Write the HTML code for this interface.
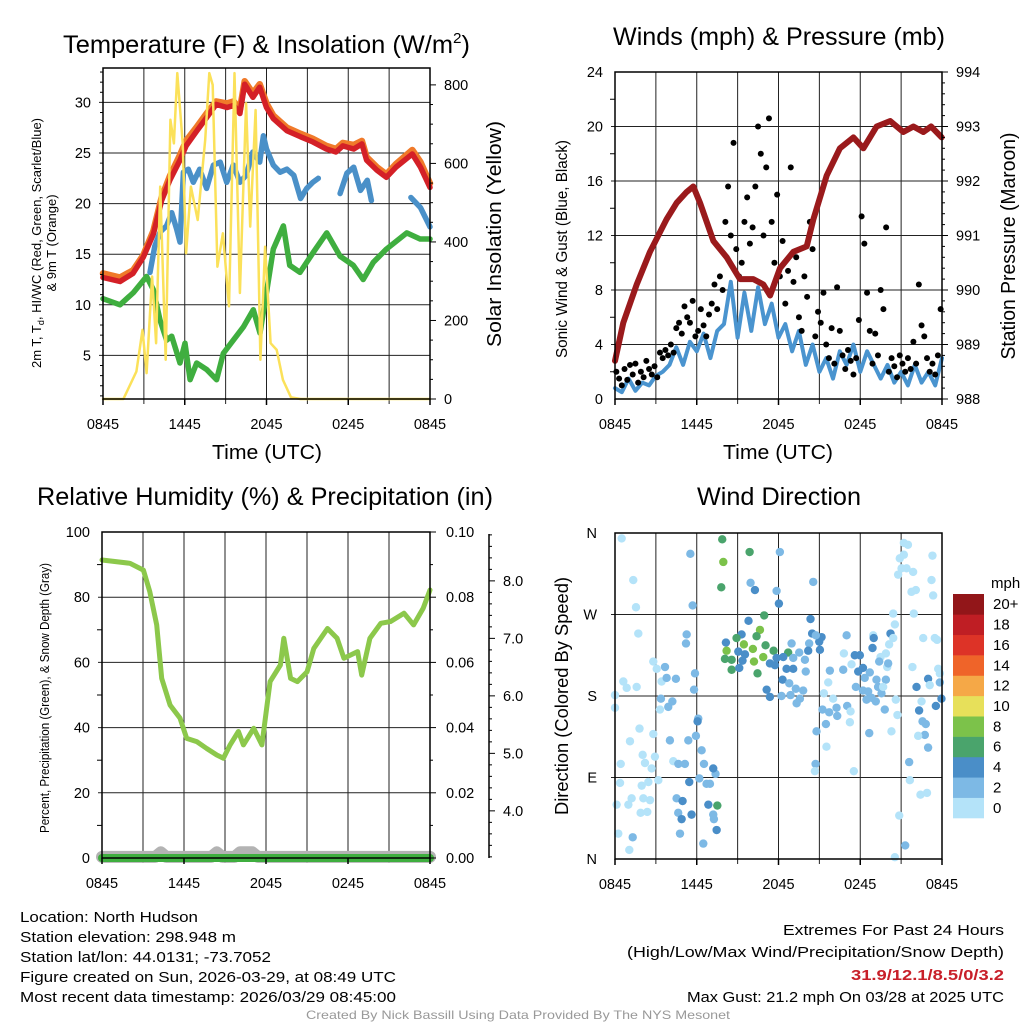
<!DOCTYPE html>
<html><head><meta charset="utf-8"><style>
body{margin:0;background:#fff;}
svg{display:block;font-family:"Liberation Sans",sans-serif;}
</style></head><body>
<svg id="fig" width="1024" height="1024" viewBox="0 0 1024 1024" xmlns="http://www.w3.org/2000/svg">
<rect width="1024" height="1024" fill="#fff"/>
<g id="layerBack"></g>
<g id="layerData"></g>
<g id="layerFront"></g>
<text x="63" y="53" font-size="25" textLength="407" lengthAdjust="spacingAndGlyphs">Temperature (F) &amp; Insolation (W/m<tspan font-size="15" dy="-10">2</tspan><tspan dy="10">)</tspan></text>
<text x="613" y="45" font-size="25" textLength="332" lengthAdjust="spacingAndGlyphs">Winds (mph) &amp; Pressure (mb)</text>
<text x="37" y="505" font-size="25" textLength="456" lengthAdjust="spacingAndGlyphs">Relative Humidity (%) &amp; Precipitation (in)</text>
<text x="697" y="505" font-size="25" textLength="164" lengthAdjust="spacingAndGlyphs">Wind Direction</text>
<text x="212" y="459" font-size="20" textLength="110" lengthAdjust="spacingAndGlyphs">Time (UTC)</text>
<text x="723" y="459" font-size="20" textLength="110" lengthAdjust="spacingAndGlyphs">Time (UTC)</text>
<text transform="translate(41,243) rotate(-90)" font-size="13" text-anchor="middle" textLength="250" lengthAdjust="spacingAndGlyphs">2m T, T<tspan font-size="9" dy="3">d</tspan><tspan dy="-3">, HI/WC (Red, Green, Scarlet/Blue)</tspan></text>
<text transform="translate(56,243) rotate(-90)" font-size="13" text-anchor="middle">&amp; 9m T (Orange)</text>
<text transform="translate(501,234) rotate(-90)" font-size="20" text-anchor="middle" textLength="226" lengthAdjust="spacingAndGlyphs">Solar Insolation (Yellow)</text>
<text transform="translate(567,249) rotate(-90)" font-size="16" text-anchor="middle" textLength="218" lengthAdjust="spacingAndGlyphs">Sonic Wind &amp; Gust (Blue, Black)</text>
<text transform="translate(1015,246) rotate(-90)" font-size="20" text-anchor="middle" textLength="227" lengthAdjust="spacingAndGlyphs">Station Pressure (Maroon)</text>
<text transform="translate(49,698) rotate(-90)" font-size="13" text-anchor="middle" textLength="270" lengthAdjust="spacingAndGlyphs">Percent, Precipitation (Green), &amp; Snow Depth (Gray)</text>
<text transform="translate(568,696) rotate(-90)" font-size="18" text-anchor="middle" textLength="238" lengthAdjust="spacingAndGlyphs">Direction (Colored By Speed)</text>
<text x="991" y="588" font-size="15">mph</text>
<g font-size="15">
<text x="20" y="922" textLength="178" lengthAdjust="spacingAndGlyphs">Location: North Hudson</text>
<text x="20" y="942" textLength="216" lengthAdjust="spacingAndGlyphs">Station elevation: 298.948 m</text>
<text x="20" y="962" textLength="251" lengthAdjust="spacingAndGlyphs">Station lat/lon: 44.0131; -73.7052</text>
<text x="20" y="982" textLength="376" lengthAdjust="spacingAndGlyphs">Figure created on Sun, 2026-03-29, at 08:49 UTC</text>
<text x="20" y="1002" textLength="376" lengthAdjust="spacingAndGlyphs">Most recent data timestamp: 2026/03/29 08:45:00</text>
<text x="783" y="935" textLength="221" lengthAdjust="spacingAndGlyphs">Extremes For Past 24 Hours</text>
<text x="627" y="957" textLength="377" lengthAdjust="spacingAndGlyphs">(High/Low/Max Wind/Precipitation/Snow Depth)</text>
<text x="851" y="980" textLength="153" lengthAdjust="spacingAndGlyphs" fill="#c8202a" font-weight="bold">31.9/12.1/8.5/0/3.2</text>
<text x="687" y="1002" textLength="317" lengthAdjust="spacingAndGlyphs">Max Gust: 21.2 mph On 03/28 at 2025 UTC</text>
</g>
<text x="306" y="1019" font-size="12" fill="#999" textLength="424" lengthAdjust="spacingAndGlyphs">Created By Nick Bassill Using Data Provided By The NYS Mesonet</text>
</svg>
<script>
// ---------- DATA ----------
const xTickLabels = ["0845","1445","2045","0245","0845"];
const tempHours = [0,1.25,2.2,2.96,3.7,4.3,4.9,5.65,6.1,6.9,7.6,8.3,9.1,9.6,10.05,10.4,11.0,11.5,12.0,12.5,13.5,14.5,15.4,16.4,17.1,17.6,18.4,19.0,19.35,20.1,20.8,21.5,22.7,23.3,24];
const tempVals = [12.7,12.3,13.1,14.7,17.0,20.3,22.3,24.3,25.7,27.2,28.5,29.8,29.5,29.7,28.9,31.8,30.5,31.5,29.5,28.4,27.2,26.6,26.1,25.4,25.1,25.7,25.4,25.9,24.3,23.3,22.6,23.6,24.9,23.6,21.6];
const temp9mVals = [13.1,12.7,13.4,14.9,17.3,20.6,22.7,24.8,26.2,27.6,28.9,30.1,29.9,30.1,29.3,32.1,30.9,31.8,29.9,28.7,27.5,26.9,26.4,25.7,25.4,26.0,25.8,26.2,24.6,23.6,22.9,23.9,25.3,24.1,22.0];
const hiwcHours = [3.45,3.8,4.2,4.67,5.04,5.4,5.65,5.9,6.26,6.63,7.1,7.6,8.1,8.6,9.08,9.56,10.05,10.5,11.0,11.5,11.77,12.0,12.5,13.0,13.5,14.0,14.5,14.95,15.4,15.8,null,17.4,17.9,18.4,18.9,19.4,19.7,null,22.6,23.3,24];
const hiwcVals = [13.2,15.8,17.2,17.8,19.1,17.5,16.2,23.1,23.4,22.1,23.4,21.5,23.8,24.1,22.1,23.8,22.1,22.8,25.1,24.1,26.7,25.4,23.8,23.1,23.4,22.8,20.5,21.5,22.1,22.5,null,21.0,23.0,23.6,21.3,22.3,20.3,null,20.6,19.6,17.7];
const dewHours = [0,1.25,2.23,3.2,3.69,4.18,4.67,5.04,5.65,6.02,6.39,6.88,7.61,8.34,8.83,9.56,10.3,11.03,11.52,12.0,12.5,13.24,13.7,14.46,15.44,16.42,17.4,18.37,19.1,19.84,20.8,22.3,23.27,24];
const dewVals = [10.6,10.0,11.2,12.8,11.5,8.5,6.5,6.9,4.25,6.2,2.6,4.25,3.6,2.6,5.2,6.5,7.8,9.5,7.2,11.2,15.5,17.8,13.9,13.2,15.2,17.1,14.8,13.9,12.5,14.2,15.5,17.1,16.5,16.5];
const solarHours = [0,1.5,2.45,2.9,3.2,3.6,3.9,4.2,4.6,4.95,5.2,5.45,5.85,6.1,6.45,6.95,7.5,7.8,8.05,8.4,8.8,9.25,9.65,10.05,10.5,10.8,11.2,11.55,11.9,12.3,12.75,13.2,13.8,14.5,24];
const solarVals = [0,0,70,176,66,312,142,541,100,711,651,830,651,371,541,456,660,830,800,337,422,236,830,270,753,439,736,100,388,142,125,49,4,0,0];
const pressHours = [0,0.61,1.59,2.57,3.79,4.53,5.26,5.75,6.24,7.22,8.2,9.17,10.15,10.89,11.38,12.11,13.09,14.07,14.56,15.54,16.51,17.5,18.23,19.2,20.2,21.16,21.9,22.63,23.2,23.98];
const pressVals = [988.7,989.4,990.1,990.7,991.3,991.6,991.8,991.9,991.6,990.9,990.6,990.2,990.2,990.1,989.9,990.4,990.7,990.8,991.3,992.1,992.6,992.8,992.6,993.0,993.1,992.9,993.0,992.9,993.0,992.8];
const windHours = [0,0.5,1,1.5,2,2.5,3,3.5,4,4.5,5,5.5,6,6.5,7,7.5,8,8.5,9,9.5,10,10.5,11,11.5,12,12.5,13,13.5,14,14.5,15,15.5,16,16.5,17,17.5,18,18.5,19,19.5,20,20.5,21,21.5,22,22.5,23,23.5,24];
const windVals = [0.8,0.5,1.5,0.6,1.2,1.0,1.7,2.0,2.5,3.8,2.5,4.2,3.5,4.8,3.0,5.0,5.5,8.6,4.5,7.8,5.0,8.2,5.5,7.0,4.5,5.5,3.5,5.0,2.5,4.0,2.0,3.0,1.5,3.5,2.5,4.0,2.0,3.5,2.5,1.5,2.5,1.2,2.0,1.0,2.5,1.2,2.0,1.0,3.0];
const gustHours = [0.1,0.3,0.5,0.7,0.9,1.1,1.3,1.5,1.7,1.9,2.1,2.3,2.5,2.7,2.9,3.1,3.3,3.5,3.7,3.9,4.1,4.3,4.5,4.7,4.9,5.1,5.3,5.5,5.7,5.9,6.1,6.3,6.5,6.7,6.9,7.1,7.3,7.5,7.7,7.9,8.1,8.3,8.5,8.7,8.9,9.1,9.3,9.5,9.7,9.9,10.1,10.3,10.5,10.7,10.9,11.1,11.3,11.5,11.7,11.9,12.1,12.3,12.5,12.7,12.9,13.1,13.3,13.5,13.7,13.9,14.1,14.3,14.5,14.7,14.9,15.1,15.3,15.5,15.7,15.9,16.1,16.3,16.5,16.7,16.9,17.1,17.3,17.5,17.7,17.9,18.1,18.3,18.5,18.7,18.9,19.1,19.3,19.5,19.7,19.9,20.1,20.3,20.5,20.7,20.9,21.1,21.3,21.5,21.7,21.9,22.1,22.3,22.5,22.7,22.9,23.1,23.3,23.5,23.7,23.9];
const gustVals = [2.0,1.5,1.0,2.2,1.4,2.5,1.8,2.6,1.2,2.0,1.6,2.8,2.2,1.8,2.4,1.6,3.4,3.0,3.6,3.2,4.0,3.4,5.2,5.6,4.8,6.8,6.0,5.6,7.2,4.6,5.0,6.6,5.4,4.6,6.2,7.0,8.4,6.6,9.0,8.0,13.0,15.6,12.0,18.8,11.0,9.0,10.0,13.0,14.8,11.4,12.6,15.6,20.0,18.0,12.0,17.0,20.6,13.0,10.0,15.0,9.0,11.6,7.0,9.4,17.0,8.6,10.4,6.0,5.0,9.0,7.5,13.0,11.0,4.6,6.4,5.6,7.8,4.0,3.0,5.2,2.6,8.2,5.0,3.2,2.2,3.6,2.8,1.8,3.0,5.8,13.4,11.4,7.8,5.0,2.6,4.8,3.2,8.0,6.6,12.6,2.0,3.0,2.4,1.6,3.2,2.6,2.0,3.0,2.2,4.2,2.6,8.4,5.4,4.6,3.0,2.0,2.6,1.8,3.2,6.6];
const rhHours = [0,2.05,3.03,3.5,4.0,4.37,4.98,5.71,6.2,6.93,7.66,8.4,8.88,9.37,9.98,10.35,11.1,11.7,12.3,13.05,13.3,13.8,14.3,15.0,15.5,16.5,17.2,17.7,18.7,19.0,19.6,20.4,21.1,22.1,22.8,23.5,24.0];
const rhVals = [91.4,90.4,88.3,81.7,71.5,55.1,46.9,42.9,36.7,35.7,33.6,31.6,30.6,34.7,38.8,34.7,39.8,34.7,54.1,59.2,67.4,55.1,54.1,57.1,64.3,70.4,67.4,61.3,63.3,56.1,67.4,72.0,72.5,75.1,71.5,76.6,82.2];
const snowHours = [0,3.9,4.3,4.7,8.0,8.4,8.8,9.7,10.1,10.6,11.0,11.4,24];
const snowVals = [3.2,3.2,3.28,3.2,3.2,3.28,3.2,3.2,3.28,3.28,3.28,3.2,3.2];
const precipHours = [0,24];
const precipVals = [0,0];
const dirHours = [0.49,1.34,1.54,1.71,0,0,0.61,0.86,1.59,2.81,3.06,3.42,3.3,1.8,1.1,2.81,2.03,2.93,0.42,2.2,2.69,0.37,1.96,2.45,1.22,0.12,0.98,2.08,2.57,1.88,2.37,0.24,1.05,3.18,4.28,5.26,5.21,5.7,5.53,5.87,5.8,3.67,3.79,4.47,3.37,3.91,4.21,4.03,5.38,5.94,6.11,6.36,6.53,4.65,5.13,6.19,6.72,6.97,4.52,4.64,7.21,7.26,4.77,6.48,1.3,7.38,5.45,4.96,4.89,5.62,6.85,7.46,7.21,6.06,7.51,7.87,7.95,7.8,9.88,12.1,9.95,10.27,11.86,12.03,14.55,14.35,10.95,9.8,10.64,9.29,8.14,8.19,8.92,9.46,10.12,10.39,11.05,11.64,10.88,10.2,10.46,12.71,8.07,8.56,8.56,9.05,9.54,9.36,9.12,11.37,11.74,11.86,12.35,12.59,13.08,12.3,11.13,11.37,12.22,12.96,13.52,13.08,13.94,14.0,12.79,13.27,13.81,12.88,13.57,13.33,14.25,14.18,14.47,14.99,15.04,15.16,14.74,15.77,16.75,17.0,16.8,15.65,16.01,15.33,15.23,15.72,16.26,16.31,17.04,17.29,17.24,15.48,14.79,15.52,14.72,14.67,17.53,17.36,17.6,17.97,17.85,18.2,18.7,18.33,17.68,18.2,18.58,18.83,19.14,18.46,19.56,19.31,19.19,19.88,19.68,19.8,20.61,20.73,20.29,19.98,20.05,19.49,19.39,19.88,18.95,18.9,18.99,18.66,20.22,20.42,20.12,20.42,20.54,20.78,20.9,21.03,21.2,21.5,21.2,21.4,21.88,21.76,22.08,21.93,23.3,23.23,23.35,23.47,23.64,22.62,21.83,22.98,23.1,23.72,23.84,23.84,23.96,23.55,22.13,22.5,22.32,22.57,22.81,22.74,22.25,22.98,21.59,21.64,22.42,22.9,20.86,21.3,20.54];
const dirDegs = [354,308,278,249,181,167,196,189,190,218,210,196,165,144,130,138,115,113,105,106,100,84,81,85,67,60,60,67,65,51,52,28,10,87,108,248,238,280,337,205,187,212,200,199,177,168,174,131,131,136,155,120,105,105,105,89,83,83,67,51,49,44,28,17,24,94,85,64,44,49,60,32,100,152,59,353,328,300,339,339,305,297,296,282,306,265,269,263,253,248,239,230,244,237,232,246,236,230,223,218,205,228,221,220,209,229,226,219,211,216,214,222,223,210,210,198,187,179,180,238,228,222,220,207,194,188,186,181,177,172,238,230,249,240,231,245,247,208,209,247,227,195,177,183,165,162,167,158,169,163,151,149,141,124,105,97,97,215,225,225,207,211,206,200,190,186,185,178,174,176,183,190,198,198,190,165,176,159,141,212,216,223,218,227,247,233,244,139,249,244,237,271,259,314,332,321,349,347,336,321,317,295,297,271,335,308,291,244,242,244,212,199,192,210,205,195,177,169,190,174,164,152,149,137,136,123,107,87,71,73,48,15,2];
const dirSpeeds = [0,0,0,0,0,0,0,0,0,0,0,0,0,0,0,0,0,0,0,0,0,0,0,0,0,0,0,0,0,0,0,0,0,0,0,2,2,2,2,2,2,2,2,2,2,2,2,2,2,2,2,2,2,2,2,2,2,2,2,2,2,2,2,2,2,2,4,4,4,4,4,4,4,4,6,6,8,6,6,2,2,4,2,4,2,4,6,4,8,4,4,8,6,8,8,6,6,6,8,8,6,6,6,6,6,4,4,4,4,4,4,4,4,4,4,4,4,4,2,2,2,2,2,2,2,2,2,2,2,2,2,4,4,4,4,4,2,2,2,2,0,0,0,0,2,2,2,2,2,0,0,2,2,0,2,0,0,0,4,4,4,4,2,2,2,2,2,2,2,2,2,2,2,2,0,2,0,0,0,0,2,0,2,0,0,4,4,2,4,0,0,0,0,0,0,0,0,0,0,0,0,0,0,0,0,0,0,0,0,0,0,4,0,0,0,2,4,4,4,0,4,2,2,2,0,2,2,0,0,0,0,2,0,0,0];
const speedBinLabels = ["0","2","4","6","8","10","12","14","16","18","20+"];
const speedBinColors = ["#b4e3f9","#7db9e5","#4a8ec8","#4aa46c","#7cc24a","#e7e05a","#f5a847","#ef6429","#dd3327","#bf1e24","#921619"];

// ---------- SETUP ----------
const NS="http://www.w3.org/2000/svg";
const back=document.getElementById('layerBack');
const dataL=document.getElementById('layerData');
const front=document.getElementById('layerFront');
function mk(tag, parent, attrs){const e=document.createElementNS(NS,tag);for(const k in attrs)e.setAttribute(k,attrs[k]);parent.appendChild(e);return e;}
const TF=14.5;

const panels={
 temp:{x0:103,x1:430,y0:68,y1:399},
 wind:{x0:615,x1:942,y0:72,y1:399},
 rh:{x0:102,x1:430,y0:532,y1:858},
 dir:{x0:615,x1:942,y0:533,y1:859}
};
function xs(p,h){return p.x0+h*(p.x1-p.x0)/24;}
function lin(p,d0,d1){return v=>p.y1-(v-d0)*(p.y1-p.y0)/(d1-d0);}
const yTemp=lin(panels.temp,0.69,33.4);
const ySolar=lin(panels.temp,0,843);
const yWind=lin(panels.wind,0,24);
const yPress=lin(panels.wind,988,994);
const yRH=lin(panels.rh,0,100);
const yPrecip=lin(panels.rh,0,0.1);
const ySnow=lin(panels.rh,3.18,8.85);
const yDir=lin(panels.dir,0,360);

function frame(name,p){
  for(let i=1;i<8;i++){
    const x=xs(p,i*3);
    const l=mk('line',back,{x1:x,x2:x,y1:p.y0,y2:p.y1+5,stroke:'#222','stroke-width':1});
    
    
  }
  const r=mk('rect',front,{x:p.x0,y:p.y0,width:p.x1-p.x0,height:p.y1-p.y0,fill:'none',stroke:'#000','stroke-width':1.5});
  
  
  for(let i=0;i<5;i++){
    const x=xs(p,i*6);
    const t=mk('line',front,{x1:x,x2:x,y1:p.y1,y2:p.y1+6,stroke:'#000','stroke-width':1.5});
    
    
    const tx=mk('text',front,{x:x,y:p.y1+30,'font-size':TF,'text-anchor':'middle'});
    tx.textContent=xTickLabels[i];
    
    
  }
}
function hgrid(name,p,vals,yf,labels,side,lx){
  vals.forEach((v,i)=>{
    const y=yf(v);
    const l=mk('line',back,{x1:p.x0-4,x2:p.x1,y1:y,y2:y,stroke:'#222','stroke-width':1});
    
    
    if(labels){
      const t=mk('text',front,{x:lx,y:y+5,'font-size':TF,'text-anchor':side});
      t.textContent=labels[i];
      
      
    }
  });
}
function rightTicks(name,vals,yf,x,len,labels,lx){
  vals.forEach((v,i)=>{
    const y=yf(v);
    const l=mk('line',front,{x1:x,x2:x+len,y1:y,y2:y,stroke:'#000','stroke-width':1});
    
    
    if(labels){
      const t=mk('text',front,{x:lx,y:y+5,'font-size':TF});
      t.textContent=labels[i];
      
      
    }
  });
}
function path(hours,vals,p,yf,color,w,name,parent){
  let d='',pen=false;
  for(let i=0;i<hours.length;i++){
    if(hours[i]===null||vals[i]===null){pen=false;continue;}
    d+=(pen?'L':'M')+xs(p,hours[i]).toFixed(1)+' '+yf(vals[i]).toFixed(1);pen=true;
  }
  const e=mk('path',parent||dataL,{d:d,fill:'none',stroke:color,'stroke-width':w,'stroke-linejoin':'round','stroke-linecap':'round'});
  
  
  return e;
}

// ---------- PANEL 1 ----------
let P=panels.temp;
frame('temp',P);
hgrid('temp',P,[5,10,15,20,25,30],yTemp,["5","10","15","20","25","30"],'end',P.x0-12);
rightTicks('temp-left-minor',[1,2,3,4,6,7,8,9,11,12,13,14,16,17,18,19,21,22,23,24,26,27,28,29,31,32,33],yTemp,P.x0-3,3,null);
rightTicks('solar-axis',[0,200,400,600,800],ySolar,P.x1,6,["0","200","400","600","800"],P.x1+14);
rightTicks('solar-axis-minor',[50,100,150,250,300,350,450,500,550,650,700,750],ySolar,P.x1,3,null);
path(dewHours,dewVals,P,yTemp,'#3fae3f',5.5,'dewpoint-line');
path(tempHours,temp9mVals,P,yTemp,'#f07a2a',6.5,'temp-9m-line');
path(tempHours,tempVals,P,yTemp,'#d42027',5.5,'temp-2m-line');
path(hiwcHours,hiwcVals,P,yTemp,'#4a90c8',5.5,'heat-index-windchill-line');
path(solarHours,solarVals,P,ySolar,'#fbe15a',2.5,'solar-insolation-line');

// ---------- PANEL 2 ----------
P=panels.wind;
frame('wind',P);
hgrid('wind',P,[4,8,12,16,20],yWind,["4","8","12","16","20"],'end',P.x0-12);
[0,24].forEach(v=>{const t=mk('text',front,{x:P.x0-12,y:yWind(v)+5,'font-size':TF,'text-anchor':'end'});t.textContent=String(v);
 
 });
rightTicks('wind-left-minor',[2,6,10,14,18,22],yWind,P.x0-5,5,null);
rightTicks('pressure-axis',[988,989,990,991,992,993,994],yPress,P.x1,6,["988","989","990","991","992","993","994"],P.x1+14);
rightTicks('pressure-axis-minor',[988.2,988.4,988.6,988.8,989.2,989.4,989.6,989.8,990.2,990.4,990.6,990.8,991.2,991.4,991.6,991.8,992.2,992.4,992.6,992.8,993.2,993.4,993.6,993.8],yPress,P.x1,3,null);
path(windHours,windVals,P,yWind,'#4a94cf',4,'sonic-wind-line');
gustHours.forEach((h,i)=>{
  const c=mk('circle',dataL,{cx:xs(P,h),cy:yWind(gustVals[i]),r:3,fill:'#000'});
  
  
});
path(pressHours,pressVals,P,yPress,'#9a1a1c',6,'station-pressure-line');

// ---------- PANEL 3 ----------
P=panels.rh;
frame('rh',P);
hgrid('rh',P,[20,40,60,80],yRH,["20","40","60","80"],'end',P.x0-12);
[0,100].forEach(v=>{const t=mk('text',front,{x:P.x0-12,y:yRH(v)+5,'font-size':TF,'text-anchor':'end'});t.textContent=String(v);
 
 });
rightTicks('rh-left-minor',[10,30,50,70,90],yRH,P.x0-5,5,null);
rightTicks('precip-axis',[0,0.02,0.04,0.06,0.08,0.1],yPrecip,P.x1,6,["0.00","0.02","0.04","0.06","0.08","0.10"],P.x1+16);
rightTicks('precip-axis-minor',[0.01,0.03,0.05,0.07,0.09],yPrecip,P.x1,3,null);
const sAx=mk('line',front,{x1:489,x2:489,y1:P.y0+2,y2:P.y1,stroke:'#000','stroke-width':1.5});


rightTicks('snow-depth-axis',[4,5,6,7,8],ySnow,489,6,["4.0","5.0","6.0","7.0","8.0"],503);
rightTicks('snow-depth-axis-minor',[3.2,3.4,3.6,3.8,4.2,4.4,4.6,4.8,5.2,5.4,5.6,5.8,6.2,6.4,6.6,6.8,7.2,7.4,7.6,7.8,8.2,8.4,8.6,8.8],ySnow,489,3,null);
path(snowHours,snowVals,P,ySnow,'#b3b3b3',12,'snow-depth-line');
path(precipHours,precipVals,P,yPrecip,'#3fae3f',8,'precipitation-line');
path(rhHours,rhVals,P,yRH,'#8cc84b',5,'relative-humidity-line');

// ---------- PANEL 4 ----------
P=panels.dir;
frame('dir',P);
hgrid('dir',P,[90,180,270],yDir,["E","S","W"],'end',P.x0-18);
[0,360].forEach(v=>{const t=mk('text',front,{x:P.x0-18,y:yDir(v)+5,'font-size':TF,'text-anchor':'end'});t.textContent='N';
 
 });
dirHours.forEach((h,i)=>{
  const c=mk('circle',dataL,{cx:xs(P,h),cy:yDir(dirDegs[i]),r:4.2,fill:speedBinColors[dirSpeeds[i]/2]});
  
  
});
const cbTop=594, cbH=224/11;
speedBinLabels.forEach((lab,i)=>{
  const k=10-i;
  const r=mk('rect',front,{x:953,y:cbTop+k*cbH,width:31,height:cbH+0.3,fill:speedBinColors[i]});
  
  
  const t=mk('text',front,{x:993,y:cbTop+k*cbH+cbH/2+5,'font-size':15});
  t.textContent=lab;
  
  
});
</script>
</body></html>
